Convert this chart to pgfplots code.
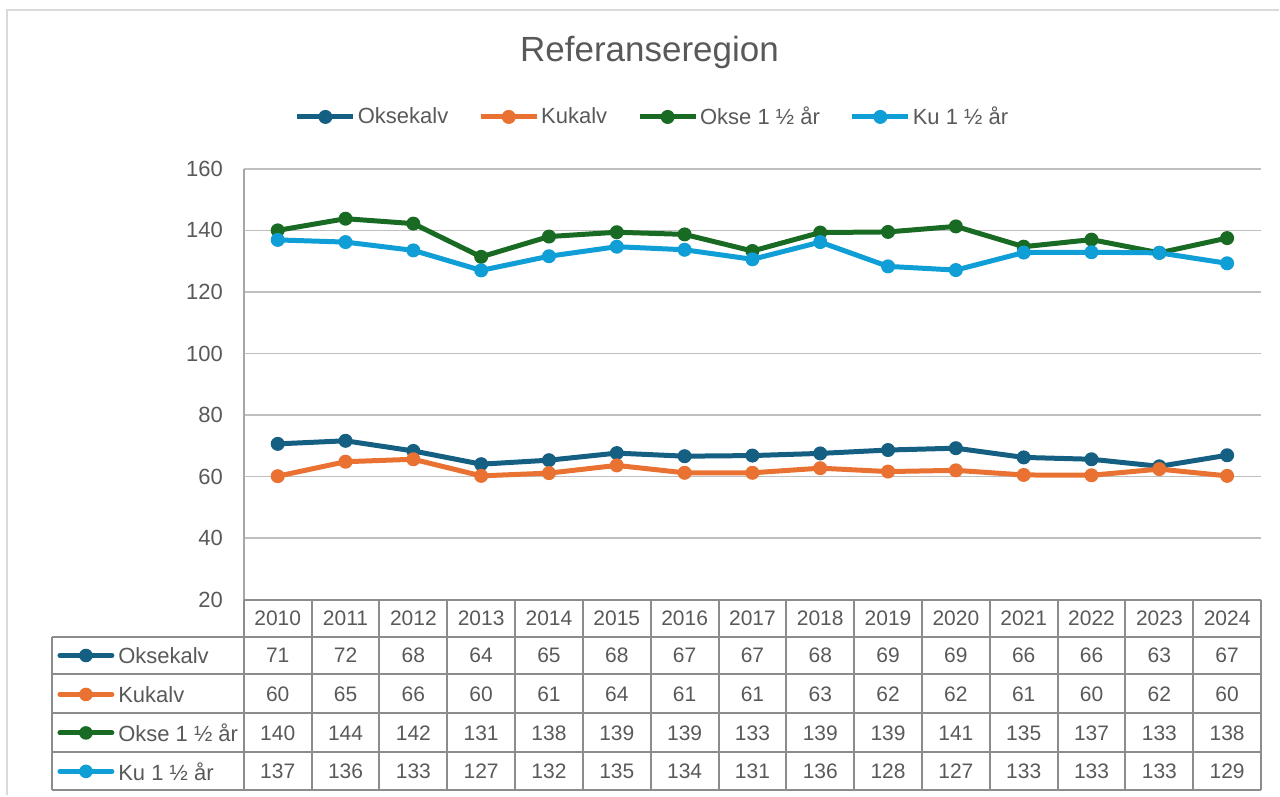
\documentclass[border=0pt]{standalone}
\usepackage{pgfplots}
\usepackage{pgfplotstable}
\pgfplotsset{compat=1.18}
\usepackage{fontspec}
\setmainfont{Liberation Sans}
\definecolor{oksekalv}{HTML}{156082}
\definecolor{kukalv}{HTML}{E97132}
\definecolor{okse}{HTML}{196B24}
\definecolor{ku}{HTML}{0F9ED5}
\definecolor{txt}{HTML}{595959}
\definecolor{grid}{HTML}{A6A6A6}
\definecolor{tab}{HTML}{8C8C8C}
\definecolor{frame}{HTML}{D9D9D9}

% years 2010..2024 at 0..14
\pgfplotstableread{
i  oksekalv kukalv okse  ku
0  70.6     60.1   140.0 136.9
1  71.6     64.8   143.8 136.2
2  68.3     65.6   142.2 133.5
3  64.0     60.2   131.4 127.0
4  65.3     61.1   138.0 131.6
5  67.6     63.6   139.4 134.7
6  66.6     61.2   138.7 133.7
7  66.8     61.2   133.3 130.6
8  67.5     62.7   139.3 136.2
9  68.6     61.6   139.5 128.3
10 69.2     62.0   141.3 127.1
11 66.2     60.5   134.7 132.8
12 65.6     60.4   137.0 132.9
13 63.3     62.4   132.7 132.7
14 66.9     60.2   137.5 129.3
}\data

\tikzset{serie/.style={line width=2.5pt, line join=round, mark=*, mark size=3.2pt, mark options={line width=0.6pt}}}

\begin{document}
\begin{tikzpicture}
\begin{scope}[x=0.5pt,y=-0.5pt]
\path (0,0) rectangle (1280,796);
\draw[frame, line width=1pt] (7,796) -- (7,10) -- (1280,10);
\node[txt, font=\fontsize{17.5}{20}\selectfont] at (650,53) {Referanseregion};
\end{scope}

\begin{axis}[
    at={(122pt,-300pt)}, anchor=south west,
    scale only axis,
    width=509pt, height=215.5pt,
    xmin=-0.5, xmax=14.5,
    ymin=20, ymax=160,
    ytick={20,40,...,160},
    xtick=\empty,
    axis lines*=left,
    axis line style={grid, line width=0.8pt},
    ymajorgrids=true,
    grid style={grid, line width=0.8pt},
    major tick length=0pt,
    yticklabel style={txt, font=\fontsize{11}{13}\selectfont, xshift=-7pt},
    /pgf/number format/assume math mode=true,
    clip=false,
    legend columns=4,
    legend style={at={(0.4018,1.1206)}, anchor=center, draw=none, fill=none,
        font=\fontsize{11}{13}\selectfont, text=txt,
        nodes={inner xsep=1pt},
        /tikz/every even column/.append style={column sep=14pt}},
    legend image code/.code={
        \draw[#1, mark repeat=2, mark phase=2] plot coordinates {(0pt,0pt) (14pt,0pt) (28pt,0pt)};
    },
]
\addplot[oksekalv, serie] table[x=i, y=oksekalv] {\data};
\addplot[kukalv, serie] table[x=i, y=kukalv] {\data};
\addplot[okse, serie] table[x=i, y=okse] {\data};
\addplot[ku, serie] table[x=i, y=ku] {\data};
\legend{Oksekalv, Kukalv, Okse 1 ½ år, Ku 1 ½ år}
\end{axis}

% data table below the axis, in pixel units
\begin{scope}[x=0.5pt,y=-0.5pt]
\foreach \k in {0,...,15}
  \draw[tab, line width=1pt] (244+67.87*\k,600) -- (244+67.87*\k,791);
\draw[tab, line width=1pt] (244,600) -- (1262,600);
\foreach \yy in {637,675,714,753,791}
  \draw[tab, line width=1pt] (52,\yy) -- (1262,\yy);
\draw[tab, line width=1pt] (52,637) -- (52,791);
\begin{scope}[txt, font=\fontsize{10.5}{12}\selectfont]
\foreach \v [count=\k from 0] in {2010,2011,2012,2013,2014,2015,2016,2017,2018,2019,2020,2021,2022,2023,2024}
  \node at (277.93+67.87*\k,619) {\v};
\foreach \v [count=\k from 0] in {71,72,68,64,65,68,67,67,68,69,69,66,66,63,67}
  \node at (277.93+67.87*\k,656) {\v};
\foreach \v [count=\k from 0] in {60,65,66,60,61,64,61,61,63,62,62,61,60,62,60}
  \node at (277.93+67.87*\k,695) {\v};
\foreach \v [count=\k from 0] in {140,144,142,131,138,139,139,133,139,139,141,135,137,133,138}
  \node at (277.93+67.87*\k,733.5) {\v};
\foreach \v [count=\k from 0] in {137,136,133,127,132,135,134,131,136,128,127,133,133,133,129}
  \node at (277.93+67.87*\k,772) {\v};
\end{scope}
\foreach \c/\t/\yy in {oksekalv/Oksekalv/656, kukalv/Kukalv/695, okse/Okse 1 ½ år/733.5, ku/Ku 1 ½ år/772} {
  \draw[\c, line width=2.5pt, line cap=round] (60,\yy) -- (112,\yy);
  \fill[\c] (86,\yy) circle (3.4pt);
  \node[txt, anchor=west, inner sep=0pt, font=\fontsize{11}{13}\selectfont] at (118,\yy) {\t};
}
\end{scope}
\end{tikzpicture}
\end{document}
